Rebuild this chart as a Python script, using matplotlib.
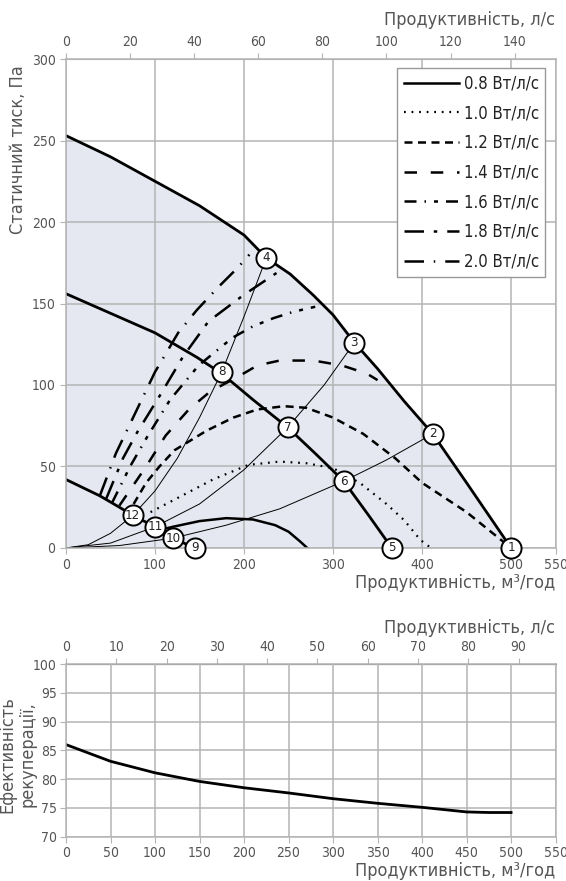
import matplotlib.pyplot as plt
import matplotlib.lines as mlines

plt.rcParams['font.family'] = ['DejaVu Sans']
plt.rcParams['font.stretch'] = 'condensed'

# Вентиляторні характеристики (м3/год, Па)
fan_max_q = [0, 50, 100, 150, 200, 225, 252, 278, 300, 324, 350, 380, 412, 450, 500]
fan_max_p = [253, 240, 225, 210, 192, 178, 168, 155, 143, 126, 110, 90, 70, 40, 0]
fan_mid_q = [0, 50, 100, 147, 175, 210, 249, 280, 312, 340, 366]
fan_mid_p = [156, 144, 132, 117, 107, 91, 74, 58, 41, 20, 0]
fan_min_q = [0, 38, 60, 75, 100, 120, 145]
fan_min_p = [42, 32, 25, 20, 13, 6, 0]

# Характеристики мережі (тонкі лінії)
net_a_q = [0, 25, 50, 75, 100, 125, 150, 175, 200, 225]
net_a_p = [0, 2, 9, 20, 35, 55, 80, 108, 142, 178]
net_b_q = [0, 50, 100, 150, 200, 249, 290, 324]
net_b_p = [0, 3, 13, 27, 48, 74, 100, 126]
net_c_q = [0, 60, 120, 180, 240, 312, 360, 412]
net_c_p = [0, 1.5, 6, 14, 24, 41, 54, 70]

# Лінії питомої потужності, Вт/л/с
sfp08_q = [105, 120, 150, 180, 210, 235, 250, 263, 271]
sfp08_p = [11, 13, 16.5, 18.3, 17.5, 14, 10, 4, 0]
sfp10_q = [95, 130, 165, 205, 240, 270, 300, 330, 360, 380, 398, 410]
sfp10_p = [22, 32, 42, 51, 53, 52, 49, 40, 27, 17, 5, 0]
sfp12_q = [76, 90, 105, 122, 158, 188, 215, 245, 270, 300, 334, 370, 400, 450, 500]
sfp12_p = [27, 40, 50, 60, 72, 80, 85, 87, 86, 80, 70, 55, 40, 22, 0]
sfp14_q = [60, 75, 90, 112, 138, 162, 193, 215, 240, 278, 310, 338, 350]
sfp14_p = [26, 38, 50, 69, 85, 96, 105, 112, 115, 115, 112, 107, 103]
sfp16_q = [52, 72, 91, 117, 149, 187, 210, 233, 256, 280]
sfp16_p = [28, 50, 68, 91, 112, 129, 136, 141, 145, 148]
sfp18_q = [45, 64, 80, 106, 131, 160, 199, 240]
sfp18_p = [30, 55, 71, 94, 117, 139, 155, 170]
sfp20_q = [38, 56, 78, 100, 126, 147, 171, 193, 206]
sfp20_p = [32, 58, 83, 108, 132, 146, 160, 172, 180]

sfp_labels = ['0.8 Вт/л/с', '1.0 Вт/л/с', '1.2 Вт/л/с', '1.4 Вт/л/с',
              '1.6 Вт/л/с', '1.8 Вт/л/с', '2.0 Вт/л/с']

# Робочі точки
pt_num = [1, 2, 3, 4, 5, 6, 7, 8, 9, 10, 11, 12]
pt_q = [500, 412, 324, 225, 366, 312, 249, 175, 145, 120, 100, 75]
pt_p = [0, 70, 126, 178, 0, 41, 74, 108, 0, 6, 13, 20]

# Ефективність рекуперації
eff_q = [0, 50, 100, 150, 200, 250, 300, 350, 400, 450, 475, 500]
eff_v = [86, 83.1, 81.1, 79.6, 78.5, 77.6, 76.6, 75.8, 75.1, 74.3, 74.2, 74.2]

grey = '#555555'
gridc = '#b4b4b4'

fig = plt.figure(figsize=(5.66, 8.81), dpi=100)
ax = fig.add_axes([0.1166, 0.378, 0.865, 0.555])

ax.fill_between(fan_max_q, fan_max_p, 0, color='#e5e8f0', zorder=0.5, lw=0)

ax.plot(fan_max_q, fan_max_p, color='k', lw=2)
ax.plot(fan_mid_q, fan_mid_p, color='k', lw=2)
ax.plot(fan_min_q, fan_min_p, color='k', lw=2)

for q, p in [(net_a_q, net_a_p), (net_b_q, net_b_p), (net_c_q, net_c_p)]:
    ax.plot(q, p, color='k', lw=0.7)

styles = [
    '-',
    (0, (0.8, 2.6)),
    (0, (3.2, 2.2)),
    (0, (5, 5.5)),
    (0, (4.8, 3.2, 0.6, 3.2, 1.6, 3.2)),
    (0, (7.8, 3.9, 1.4, 4)),
    (0, (7.8, 3.9, 0.6, 4)),
]
widths = [1.8, 1.6, 1.8, 1.8, 1.8, 1.8, 1.8]
curves = [(sfp08_q, sfp08_p), (sfp10_q, sfp10_p), (sfp12_q, sfp12_p),
          (sfp14_q, sfp14_p), (sfp16_q, sfp16_p), (sfp18_q, sfp18_p),
          (sfp20_q, sfp20_p)]
handles = []
for (q, p), ls, w, lab in zip(curves, styles, widths, sfp_labels):
    ax.plot(q, p, color='k', lw=w, linestyle=ls)
    handles.append(mlines.Line2D([], [], color='k', lw=w, linestyle=ls, label=lab))

for n, q, p in zip(pt_num, pt_q, pt_p):
    ax.plot(q, p, 'o', ms=14.5, mfc='white', mec='k', mew=1.4, zorder=5, clip_on=False)
    ax.text(q, p, str(n), ha='center', va='center', fontsize=9.5, zorder=6, color='#222222')

ax.set_xlim(0, 550)
ax.set_ylim(0, 300)
ax.set_xticks([0, 100, 200, 300, 400, 500, 550])
ax.set_yticks(range(0, 301, 50))
ax.grid(True, color=gridc, lw=1.1)
for s in ax.spines.values():
    s.set_color(gridc)
    s.set_linewidth(1.1)
ax.tick_params(colors=gridc, labelcolor=grey, labelsize=10, length=4)

top = ax.secondary_xaxis('top', functions=(lambda x: x / 3.6, lambda x: x * 3.6))
top.set_xticks(range(0, 141, 20))
top.tick_params(colors=gridc, labelcolor=grey, labelsize=10, length=4)
top.spines['top'].set_color(gridc)

leg = ax.legend(handles=handles, loc='upper right', bbox_to_anchor=(0.979, 0.982),
                borderaxespad=0, fontsize=12, handlelength=3.3, labelspacing=0.7,
                fancybox=False, framealpha=1, edgecolor='#999999', handletextpad=0.3)
for t in leg.get_texts():
    t.set_color('#222222')

fig.text(0.981, 0.977, 'Продуктивність, л/с', ha='right', va='center', fontsize=13, color=grey)
fig.text(0.981, 0.338, 'Продуктивність, м³/год', ha='right', va='center', fontsize=13, color=grey)
fig.text(0.032, 0.83, 'Статичний тиск, Па', rotation=90, ha='center', va='center',
         fontsize=13, color=grey)

# нижній графік
ax2 = fig.add_axes([0.1166, 0.0503, 0.865, 0.196])
ax2.plot(eff_q, eff_v, color='k', lw=2)
ax2.set_xlim(0, 550)
ax2.set_ylim(70, 100)
ax2.set_xticks(range(0, 551, 50))
ax2.set_yticks(range(70, 101, 5))
ax2.grid(True, color=gridc, lw=1.1)
for s in ax2.spines.values():
    s.set_color(gridc)
    s.set_linewidth(1.1)
ax2.tick_params(colors=gridc, labelcolor=grey, labelsize=10, length=4, pad=2.5)

# верхня шкала нижнього графіка (як в оригіналі)
k_ls = 5.65
top2 = ax2.secondary_xaxis('top', functions=(lambda x: x / k_ls, lambda x: x * k_ls))
top2.set_xticks(range(0, 91, 10))
top2.tick_params(colors=gridc, labelcolor=grey, labelsize=10, length=4)

fig.text(0.981, 0.287, 'Продуктивність, л/с', ha='right', va='center', fontsize=13, color=grey)
fig.text(0.981, 0.0114, 'Продуктивність, м³/год', ha='right', va='center', fontsize=13, color=grey)
fig.text(0.031, 0.144, 'Ефективність\nрекуперації,', rotation=90, ha='center', va='center',
         fontsize=13, color=grey, linespacing=1.1)

fig.savefig('out.png', dpi=100)
